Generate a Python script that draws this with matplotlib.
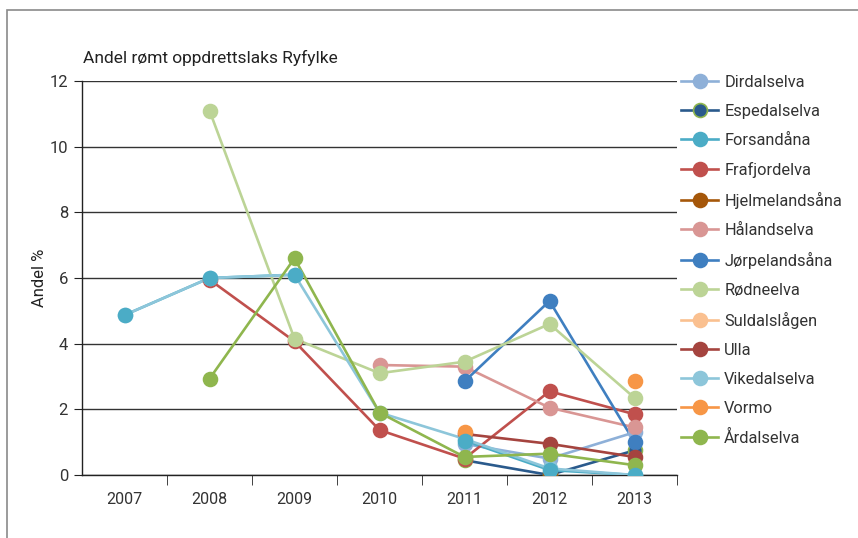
import matplotlib.pyplot as plt
import numpy as np
from matplotlib.patches import Rectangle

nan = np.nan
years = ['2007', '2008', '2009', '2010', '2011', '2012', '2013']

dirdalselva = [nan, nan, nan, nan, 0.95, 0.5, 1.3]
espedalselva = [nan, nan, nan, nan, 0.45, 0.0, 0.75]
forsandana = [4.87, 6.0, 6.1, nan, 1.05, 0.15, 0.0]
frafjordelva = [nan, 5.95, 4.07, 1.37, 0.5, 2.55, 1.85]
hjelmelandsana = [nan, nan, nan, nan, nan, 0.05, nan]
halandselva = [nan, nan, nan, 3.35, 3.3, 2.05, 1.45]
jorpelandsana = [nan, nan, nan, nan, 2.85, 5.3, 1.0]
rodneelva = [nan, 11.1, 4.15, 3.1, 3.45, 4.6, 2.35]
suldalslagen = [nan, nan, nan, nan, nan, nan, nan]
ulla = [nan, nan, nan, nan, 1.25, 0.95, 0.55]
vikedalselva = [4.87, 6.0, 6.1, 1.9, 1.1, 0.2, 0.0]
vormo = [nan, nan, nan, nan, 1.3, nan, 2.85]
ardalselva = [nan, 2.93, 6.6, 1.9, 0.55, 0.65, 0.3]

names = ['Dirdalselva', 'Espedalselva', 'Forsandåna', 'Frafjordelva', 'Hjelmelandsåna',
         'Hålandselva', 'Jørpelandsåna', 'Rødneelva', 'Suldalslågen', 'Ulla',
         'Vikedalselva', 'Vormo', 'Årdalselva']
series = [dirdalselva, espedalselva, forsandana, frafjordelva, hjelmelandsana,
          halandselva, jorpelandsana, rodneelva, suldalslagen, ulla,
          vikedalselva, vormo, ardalselva]
colors = ['#8eb0d8', '#2a5a8c', '#4bacc6', '#c0504d', '#a5570a',
          '#d99694', '#3f7fc0', '#bcd496', '#fac090', '#a5443f',
          '#8dc6da', '#f79646', '#8fb64e']

plt.rcParams['font.family'] = ['Roboto', 'DejaVu Sans']

fig = plt.figure(figsize=(8.58, 5.38), dpi=100)
ax = fig.add_axes([82/858, 1-475/538, (677-82)/858, (475-81)/538])

x = np.arange(len(years))
marker_z = {'Forsandåna': 4.5}
handles = []
for name, vals, col in zip(names, series, colors):
    v = np.array(vals, dtype=float)
    ax.plot(x, v, color=col, lw=1.9, zorder=3, solid_capstyle='round')
    mec = '#8fb64e' if name == 'Espedalselva' else col
    ax.plot(x, v, ls='none', marker='o', ms=10, color=col, mec=mec, mew=1.2,
            zorder=marker_z.get(name, 4))
    h, = ax.plot([], [], color=col, lw=1.9, marker='o', ms=10, mec=mec, mew=1.2)
    handles.append(h)

ax.set_xlim(-0.5, 6.5)
ax.set_ylim(0, 12)
ax.set_yticks(range(0, 13, 2))
ax.set_xticks(x)
ax.set_xticklabels(years)
ax.set_xticks(np.arange(0.5, 6.6, 1), minor=True)
ax.tick_params(axis='x', which='major', length=0, pad=12, labelsize=11.5, colors='#333333')
ax.tick_params(axis='x', which='minor', length=7, direction='out', color='#222222')
ax.tick_params(axis='y', length=6, direction='out', labelsize=12, colors='#333333', pad=4)
ax.tick_params(axis='y', color='#222222')
ax.grid(axis='y', color='#333333', lw=1.0)
ax.set_axisbelow(True)
for s in ['top', 'right']:
    ax.spines[s].set_visible(False)
for s in ['left', 'bottom']:
    ax.spines[s].set_color('#222222')
    ax.spines[s].set_linewidth(1.0)

ax.set_ylabel('Andel %', fontsize=12, color='#222222', labelpad=2)
fig.text(83/858, 1-58/538, 'Andel rømt oppdrettslaks Ryfylke', fontsize=12.5,
         color='#222222', va='center', ha='left')

fig.legend(handles, names, loc='upper left', bbox_to_anchor=(666/858, 1-60/538),
           frameon=False, fontsize=11.8, labelspacing=0.855, handlelength=2.3,
           handletextpad=0.35, labelcolor='#333333')

fig.patches.append(Rectangle((7/858, -0.1), 1.2, 1-10/538+0.1, transform=fig.transFigure,
                             fill=False, edgecolor='#8a8a8a', lw=1.2))

fig.savefig('out.png', dpi=100)
